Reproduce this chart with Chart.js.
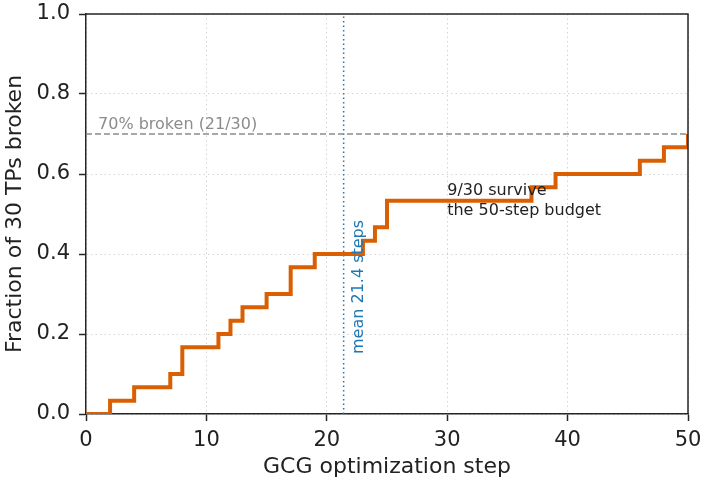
<!DOCTYPE html>
<html>
<head>
<meta charset="utf-8">
<script src="https://cdn.jsdelivr.net/npm/chart.js@4/dist/chart.umd.min.js"></script>
<style>
  body { margin: 0; background: #fff; }
  canvas { display: block; }
</style>
</head>
<body>
<canvas id="cdf" width="708" height="488"></canvas>
<script>
// step at which each extra TP got broken, and the running count of broken TPs
const breakSteps = [0, 2, 4, 7, 8, 11, 12, 13, 15, 17, 19, 23, 24, 25, 37, 39, 46, 48, 50];
const brokenCounts = [0, 1, 2, 3, 5, 6, 7, 8, 9, 11, 12, 13, 14, 16, 17, 18, 19, 20, 21];
const totalTPs = 30;
const meanStep = 21.4;
const thresholdFrac = 0.7;
const xTicks = [0, 10, 20, 30, 40, 50];
const yTicks = [0, 0.2, 0.4, 0.6, 0.8, 1.0];

Chart.defaults.font.family = "'DejaVu Sans', sans-serif";
Chart.defaults.color = '#222';

const cdfPoints = breakSteps.map((s, i) => ({ x: s, y: brokenCounts[i] / totalTPs }));

// frame + text annotations, placed through the scales
const annotate = {
    id: 'annotate',
    afterDatasetsDraw(chart) {
        const { ctx, chartArea, scales } = chart;
        const x = scales.x, y = scales.y;
        ctx.save();

        ctx.fillStyle = '#8c8c8c';
        ctx.font = "16px 'DejaVu Sans'";
        ctx.textAlign = 'left';
        ctx.textBaseline = 'alphabetic';
        ctx.fillText('70% broken (21/30)', x.getPixelForValue(1), y.getPixelForValue(thresholdFrac) - 5);

        ctx.fillStyle = '#222';
        const ax = x.getPixelForValue(30);
        const ay = y.getPixelForValue(0.58);
        ctx.fillText('9/30 survive', ax, ay + 13);
        ctx.fillText('the 50-step budget', ax, ay + 33);

        ctx.fillStyle = '#1f77b4';
        ctx.translate(x.getPixelForValue(meanStep + 1.6), y.getPixelForValue(0.15));
        ctx.rotate(-Math.PI / 2);
        ctx.fillText('mean 21.4 steps', 0, 0);
        ctx.restore();

        ctx.save();
        ctx.strokeStyle = '#262626';
        ctx.lineWidth = 1.5;
        ctx.beginPath();
        ctx.moveTo(chartArea.left, chartArea.top);
        ctx.lineTo(chartArea.right, chartArea.top);
        ctx.lineTo(chartArea.right, chartArea.bottom);
        ctx.stroke();
        ctx.restore();
    }
};

const ctx = document.getElementById('cdf').getContext('2d');
const cdfChart = new Chart(ctx, {
    type: 'line',
    data: {
        datasets: [{
            data: cdfPoints,
            stepped: true,
            borderColor: '#d95f02',
            borderWidth: 4,
            pointRadius: 0,
            fill: false
        }, {
            data: [{ x: 0, y: thresholdFrac }, { x: 50, y: thresholdFrac }],
            borderColor: '#8c8c8c',
            borderWidth: 1.5,
            borderDash: [6, 3],
            pointRadius: 0
        }, {
            data: [{ x: meanStep, y: 0 }, { x: meanStep, y: 1 }],
            borderColor: '#1f77b4',
            borderWidth: 1.5,
            borderDash: [1.5, 3],
            pointRadius: 0
        }]
    },
    options: {
        responsive: false,
        animation: false,
        layout: {
            padding: { top: 14, right: 20, left: 0, bottom: 0 }
        },
        plugins: {
            legend: { display: false },
            tooltip: { enabled: false }
        },
        scales: {
            x: {
                type: 'linear',
                min: 0,
                max: 50,
                afterBuildTicks: (scale) => { scale.ticks = xTicks.map(v => ({ value: v })); },
                afterFit: (scale) => {
                    scale.height = 74;
                    scale.paddingLeft = 0;
                    scale.paddingRight = 0;
                },
                ticks: {
                    font: { size: 21 },
                    color: '#222',
                    padding: 7,
                    maxRotation: 0
                },
                grid: {
                    color: '#d4d4d4',
                    lineWidth: 1,
                    tickColor: '#262626',
                    tickLength: 7,
                    tickWidth: 1.5
                },
                border: { color: '#262626', width: 1.5, dash: [1.5, 3] },
                title: {
                    display: true,
                    text: 'GCG optimization step',
                    font: { size: 22 },
                    color: '#222',
                    padding: { top: 0, bottom: 8 }
                }
            },
            y: {
                min: 0,
                max: 1,
                afterBuildTicks: (scale) => { scale.ticks = yTicks.map(v => ({ value: v })); },
                afterFit: (scale) => {
                    scale.width = 86;
                    scale.paddingTop = 0;
                    scale.paddingBottom = 0;
                },
                ticks: {
                    font: { size: 21 },
                    color: '#222',
                    padding: 9,
                    callback: (v) => v.toFixed(1)
                },
                grid: {
                    color: '#d4d4d4',
                    lineWidth: 1,
                    tickColor: '#262626',
                    tickLength: 7,
                    tickWidth: 1.5
                },
                border: { color: '#262626', width: 1.5, dash: [1.5, 3] },
                title: {
                    display: true,
                    text: 'Fraction of 30 TPs broken',
                    font: { size: 22 },
                    color: '#222',
                    padding: { top: 2, bottom: 0 }
                }
            }
        }
    },
    plugins: [annotate]
});
</script>
</body>
</html>
